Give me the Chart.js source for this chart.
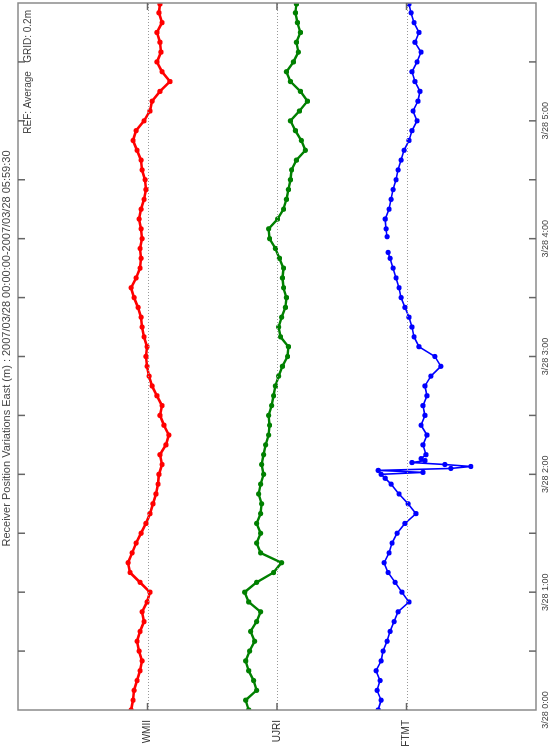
<!DOCTYPE html>
<html><head><meta charset="utf-8">
<script src="https://cdn.jsdelivr.net/npm/chart.js@4/dist/chart.umd.min.js"></script>
<style>
html,body{margin:0;padding:0;background:#fff;overflow:hidden;width:552px;height:755px}
#wrap{position:absolute;left:0;top:0;width:755px;height:552px;transform-origin:0 0;transform:translateY(755px) rotate(-90deg)}
</style></head><body>
<div id="wrap"><canvas id="c" width="755" height="552"></canvas></div>
<script>
const titleText = 'Receiver Position Variations East (m) : 2007/03/28 00:00:00-2007/03/28 05:59:30';
const refText = 'REF: Average   GRID: 0.2m';
const stations = ['WMII', 'UJRI', 'FTMT'];
const hourLabels = ['3/28 0:00', '3/28 1:00', '3/28 2:00', '3/28 3:00', '3/28 4:00', '3/28 5:00'];
// minutes after 2007/03/28 00:00
const timesMin = [0,5,10,15,20,25,30,35,40,45,50,55,60,65,70,75,80,85,90,95,100,105,110,115,120,125,130,135,140,145,150,155,160,165,170,175,180,185,190,195,200,205,210,215,220,225,230,235,240,245,250,255,260,265,270,275,280,285,290,295,300,305,310,315,320,325,330,335,340,345,350,355,359.5];
// east offsets from each station's reference line
const wmii = [-0.127,-0.112,-0.104,-0.081,-0.058,-0.042,-0.065,-0.081,-0.058,-0.027,-0.042,-0.004,0.019,-0.058,-0.135,-0.150,-0.119,-0.088,-0.050,-0.012,0.019,0.042,0.065,0.081,0.088,0.112,0.096,0.142,0.165,0.127,0.096,0.112,0.073,0.035,0.012,-0.004,-0.012,-0.004,-0.027,-0.042,-0.050,-0.073,-0.104,-0.127,-0.088,-0.058,-0.050,-0.058,-0.042,-0.050,-0.065,-0.050,-0.027,-0.012,-0.019,-0.042,-0.050,-0.081,-0.112,-0.088,-0.027,0.019,0.035,0.096,0.173,0.112,0.073,0.104,0.096,0.073,0.112,0.088,0.096];
const ujri = [-0.219,-0.242,-0.158,-0.181,-0.219,-0.242,-0.212,-0.173,-0.204,-0.158,-0.127,-0.219,-0.250,-0.158,-0.027,0.035,-0.127,-0.158,-0.127,-0.158,-0.127,-0.119,-0.142,-0.127,-0.104,-0.119,-0.104,-0.088,-0.065,-0.058,-0.065,-0.042,-0.027,-0.012,0.012,0.042,0.081,0.088,0.027,0.012,0.035,0.065,0.073,0.050,0.042,0.050,0.019,-0.012,-0.058,-0.065,0.004,0.050,0.073,0.088,0.104,0.112,0.150,0.219,0.188,0.142,0.104,0.173,0.235,0.181,0.104,0.073,0.127,0.165,0.150,0.181,0.158,0.142,0.150];
const ftmtTimes = [0,5,10,15,20,25,30,35,40,45,50,55,60,65,70,75,80,85,90,95,100,105,110,115,118,120,121,122,123,124,125,126,127,128,130,135,140,145,150,155,160,165,170,175,180,185,190,195,200,205,210,215,220,225,230,233,237,241,245,250,255,260,265,270,275,280,285,290,295,300,305,310,315,320,325,330,335,340,345,350,355,359.5];
const ftmt = [-0.219,-0.196,-0.227,-0.204,-0.235,-0.196,-0.181,-0.150,-0.127,-0.096,-0.065,0.019,-0.035,-0.088,-0.142,-0.173,-0.135,-0.112,-0.073,-0.012,0.073,0.012,-0.058,-0.119,-0.165,-0.196,0.127,-0.219,0.342,0.496,0.296,0.042,0.142,0.112,0.150,0.127,0.158,0.112,0.142,0.127,0.158,0.142,0.188,0.265,0.219,0.096,0.058,0.042,0.019,-0.012,-0.042,-0.058,-0.081,-0.104,-0.127,-0.142,null,-0.150,-0.158,-0.165,-0.135,-0.119,-0.104,-0.081,-0.065,-0.042,-0.019,0.019,0.042,0.081,0.050,0.088,0.104,0.065,0.042,0.081,0.112,0.065,0.096,0.058,0.035,0.019];

function series(times, vals, idx) {
  return times.map((t, i) => ({x: t, y: vals[i] === null ? null : idx + vals[i]}));
}
const colors = ['#ff0000', '#008000', '#0000ff'];
const lineWidths = [2.6, 2.4, 1.6];
const seriesData = [[timesMin, wmii], [timesMin, ujri], [ftmtTimes, ftmt]];

const frame = {
  id: 'frame',
  afterDatasetsDraw(chart) {
    const {ctx, chartArea: a, scales: {x, y}} = chart;
    ctx.save();
    ctx.strokeStyle = '#999';
    ctx.lineWidth = 1;
    ctx.setLineDash([1, 2]);
    stations.forEach((s, i) => {
      const py = Math.round(y.getPixelForValue(i)) + 0.5;
      ctx.beginPath(); ctx.moveTo(a.left, py); ctx.lineTo(a.right, py); ctx.stroke();
    });
    ctx.setLineDash([]);
    ctx.strokeStyle = '#8a8a8a';
    ctx.lineWidth = 1.5;
    ctx.strokeRect(a.left, a.top, a.right - a.left, a.bottom - a.top);
    ctx.strokeStyle = '#666';
    ctx.lineWidth = 1.5;
    for (let t = 30; t < 360; t += 30) {
      const px = x.getPixelForValue(t);
      ctx.beginPath(); ctx.moveTo(px, a.top); ctx.lineTo(px, a.top + 7); ctx.stroke();
      ctx.beginPath(); ctx.moveTo(px, a.bottom); ctx.lineTo(px, a.bottom - 7); ctx.stroke();
    }
    stations.forEach((s, i) => {
      const py = y.getPixelForValue(i);
      ctx.beginPath(); ctx.moveTo(a.left, py); ctx.lineTo(a.left + 7, py); ctx.stroke();
      ctx.beginPath(); ctx.moveTo(a.right, py); ctx.lineTo(a.right - 7, py); ctx.stroke();
    });
    ctx.fillStyle = '#444';
    ctx.textBaseline = 'middle';
    ctx.font = '11px "Liberation Sans", Arial, sans-serif';
    ctx.textAlign = 'center';
    ctx.fillText(titleText, (a.left + a.right) / 2 + 8, 7);
    ctx.font = '10px "Liberation Sans", Arial, sans-serif';
    ctx.textAlign = 'right';
    ctx.fillText(refText, a.right - 7, a.top + 10);
    ctx.restore();
  }
};

new Chart(document.getElementById('c'), {
  type: 'scatter',
  data: {
    datasets: seriesData.map(([t, v], i) => ({
      label: stations[i],
      data: series(t, v, i),
      showLine: true,
      spanGaps: false,
      borderColor: colors[i],
      backgroundColor: colors[i],
      borderWidth: lineWidths[i],
      borderJoinStyle: 'round',
      borderCapStyle: 'round',
      pointRadius: 2.6,
      pointBorderWidth: 0,
      pointHoverRadius: 2.6
    }))
  },
  options: {
    responsive: false,
    animation: false,
    events: [],
    layout: {padding: {top: 18, right: 3, left: 0, bottom: 0}},
    plugins: {legend: {display: false}, tooltip: {enabled: false}, title: {display: false}},
    scales: {
      x: {
        type: 'linear', position: 'bottom', min: 0, max: 360,
        grid: {display: false, drawTicks: false}, border: {display: false},
        afterFit(s) { s.height = 15; },
        afterBuildTicks(s) { s.ticks = hourLabels.map((l, i) => ({value: i * 60})); },
        ticks: {
          autoSkip: false, maxRotation: 0, padding: 4,
          color: '#444', font: {family: '"Liberation Sans", Arial, sans-serif', size: 9},
          callback: (v) => hourLabels[v / 60]
        }
      },
      y: {
        type: 'linear', position: 'left', min: -1, max: 3, reverse: true,
        grid: {display: false, drawTicks: false}, border: {display: false},
        afterFit(s) { s.width = 45; },
        afterBuildTicks(s) { s.ticks = stations.map((n, i) => ({value: i})); },
        ticks: {
          autoSkip: false, padding: 10,
          color: '#333', font: {family: '"Liberation Sans", Arial, sans-serif', size: 10},
          callback: (v) => stations[v]
        }
      }
    }
  },
  plugins: [frame]
});
</script>
</body></html>
